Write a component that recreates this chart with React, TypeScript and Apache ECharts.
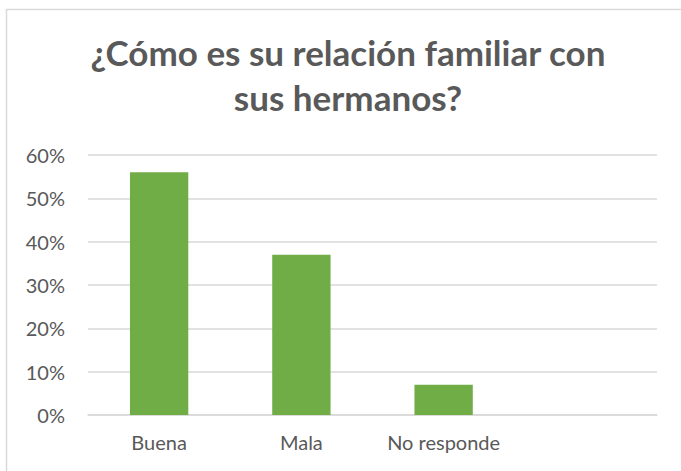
import React, { useEffect, useRef } from "react";
import * as echarts from "echarts";

const categories = ["Buena", "Mala", "No responde", ""];
const values = [0.56, 0.37, 0.07, null];
const yTicks = [0, 0.1, 0.2, 0.3, 0.4, 0.5, 0.6];
const titleText = "¿Cómo es su relación familiar con\nsus hermanos?";

export default function App() {
  const ref = useRef<HTMLDivElement>(null);
  useEffect(() => {
    if (!ref.current) return;
    const chart = echarts.init(ref.current, null, { renderer: "svg" });
    chart.setOption({
      animation: false,
      backgroundColor: "#ffffff",
      title: {
        text: titleText,
        left: 343,
        textAlign: "center",
        top: 24,
        textStyle: {
          fontFamily: "Lato",
          fontWeight: "bold",
          fontSize: 35,
          color: "#595959",
          lineHeight: 45,
        },
      },
      graphic: [
        {
          type: "rect",
          shape: { x: 6.5, y: 9.5, width: 700, height: 500 },
          style: { fill: "none", stroke: "#d9d9d9", lineWidth: 1.5 },
          silent: true,
        },
      ],
      grid: { left: 88, right: 24, top: 155, bottom: 56, containLabel: false },
      xAxis: {
        type: "category",
        data: categories,
        axisTick: { show: false },
        axisLine: { lineStyle: { color: "#d9d9d9", width: 1.5 } },
        axisLabel: {
          interval: 0,
          color: "#595959",
          fontFamily: "Lato",
          fontSize: 20,
          margin: 17,
        },
      },
      yAxis: {
        type: "value",
        min: yTicks[0],
        max: yTicks[yTicks.length - 1],
        interval: 0.1,
        axisLine: { show: false },
        axisTick: { show: false },
        splitLine: { lineStyle: { color: "#d9d9d9", width: 1.5 } },
        axisLabel: {
          color: "#595959",
          fontFamily: "Lato",
          fontSize: 20,
          margin: 23,
          formatter: (v: number) => Math.round(v * 100) + "%",
        },
      },
      series: [
        {
          type: "bar",
          data: values,
          barWidth: "41%",
          itemStyle: { color: "#70ad47" },
        },
      ],
    });
    return () => chart.dispose();
  }, []);
  return (
    <div
      ref={ref}
      style={{ position: "fixed", left: 0, top: 0, width: 681, height: 471 }}
    />
  );
}
